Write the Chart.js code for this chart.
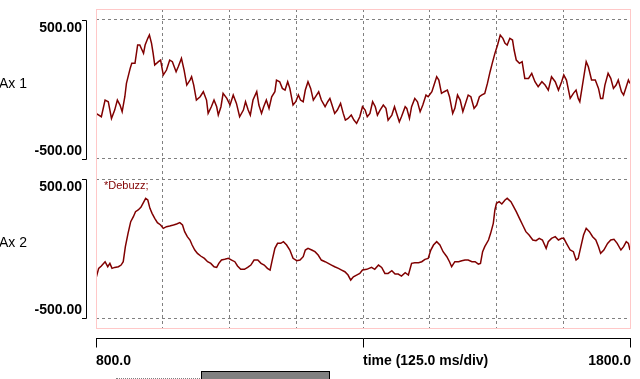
<!DOCTYPE html>
<html>
<head>
<meta charset="utf-8">
<script src="https://cdn.jsdelivr.net/npm/chart.js@4/dist/chart.umd.min.js"></script>
<style>
  html, body { margin: 0; padding: 0; background: #fff; overflow: hidden; }
  #wrap { position: relative; width: 640px; height: 379px; }
  #chart { position: absolute; left: 0; top: 0; }
  .track { position: absolute; left: 116px; top: 378px; width: 120px; border-top: 1px dotted #808080; }
  .thumb { position: absolute; left: 201px; top: 371px; width: 127px; height: 10px; background: #808080; border: 1px solid #000; }
</style>
</head>
<body>
<div id="wrap">
  <canvas id="chart" width="640" height="379"></canvas>
  <div class="track"></div>
  <div class="thumb"></div>
</div>
<script>
// Ax 1 (ms, value)
const topTimes = [800,810,817,823,829,835,840,845,849,854,857,864,867,873,878,882,889,892,897,900,
  904,907,910,917,921,926,932,938,943,950,954,960,965,970,976,979,983,988,995,1001,
  1007,1010,1016,1021,1026,1029,1034,1038,1045,1051,1057,1063,1069,1076,1080,1085,1089,1094,1101,1105,
  1110,1114,1119,1124,1129,1135,1138,1144,1149,1154,1159,1163,1169,1174,1179,1183,1188,1192,1197,1202,
  1207,1213,1217,1222,1229,1234,1238,1242,1247,1252,1258,1263,1267,1272,1278,1283,1288,1294,
  1299,1304,1308,1313,1318,1323,1327,1332,1338,1343,1347,1354,1359,1363,1368,1372,1379,1382,1387,1391,
  1397,1402,1407,1412,1418,1422,1429,1433,1438,1442,1447,1452,1458,1462,1468,1472,1477,1482,1487,1491,
  1497,1502,1508,1513,1518,1522,1528,1533,1538,1542,1547,1552,1557,1562,1566,1570,1575,1580,1583,1587,
  1593,1598,1603,1610,1616,1622,1628,1635,1641,1647,1653,1660,1666,1672,1676,1681,1688,1694,1699,1703,
  1706,1711,1718,1722,1728,1735,1741,1745,1749,1753,1759,1764,1769,1774,1778,1784,1788,1793,1797,1800];
const topValues = [-172,-196,-76,-88,-208,-148,-76,-112,-160,-52,44,152,188,188,320,320,260,320,368,392,
  332,260,176,200,212,104,140,212,200,128,164,224,140,32,68,92,32,-76,-52,-16,
  -76,-172,-124,-76,-124,-184,-124,-28,-64,-112,-40,-100,-196,-148,-88,-148,-184,-76,-16,-112,
  -172,-124,-76,-136,-52,-16,68,56,8,-4,56,8,-112,-88,-40,-76,-88,-4,56,8,
  -76,-40,-16,-76,-124,-88,-64,-112,-172,-148,-100,-172,-220,-208,-184,-220,-244,-196,
  -124,-148,-196,-172,-88,-124,-184,-148,-112,-136,-220,-184,-124,-172,-232,-196,-124,-136,-208,-124,
  -64,-88,-160,-112,-40,-52,-16,32,92,68,-28,-16,-4,-52,-172,-136,-40,-76,-160,-112,
  -40,-52,-136,-112,-52,-40,-28,44,128,188,260,320,392,368,332,320,368,356,284,212,
  188,200,80,80,116,56,20,56,32,-4,92,56,-4,56,104,68,-64,-28,-4,-64,
  -88,32,200,164,68,68,8,-64,-64,32,116,80,8,32,68,-16,-40,20,68,44];

// Ax 2 (ms, value)
const bottomTimes = [800,805,810,817,822,826,830,835,842,847,851,855,860,865,870,874,879,884,888,893,
  897,901,905,910,915,921,926,932,938,945,951,957,962,966,971,976,980,985,990,996,
  1003,1009,1015,1021,1026,1030,1035,1041,1048,1054,1060,1065,1071,1078,1084,1090,1096,1103,1109,1115,
  1121,1126,1130,1135,1140,1146,1151,1157,1163,1169,1176,1182,1188,1192,1197,1204,1210,1216,1222,1229,
  1235,1241,1247,1254,1260,1266,1272,1277,1282,1288,1294,
  1299,1307,1316,1322,1329,1335,1341,1347,1354,1360,1366,1372,1379,1385,1391,1397,1404,1410,1416,1422,
  1427,1432,1438,1444,1450,1457,1462,1466,1472,1479,1485,1491,1497,1504,1510,1516,1520,1524,1528,1535,
  1539,1544,1547,1550,1555,1560,1566,1570,1577,1582,1587,1593,1599,1605,1611,1618,1624,1630,1636,1643,
  1647,1653,1660,1666,1672,1676,1681,1688,1694,1699,1703,1708,1713,1718,1724,1730,1736,1741,1745,1751,
  1758,1764,1770,1776,1783,1788,1793,1797,1800];
const bottomValues = [-215,-143,-126,-95,-131,-107,-143,-136,-131,-119,-95,13,109,193,229,265,277,296,325,361,
  349,289,253,217,186,169,145,157,162,169,176,186,169,121,85,61,25,-11,-35,-54,
  -71,-95,-107,-131,-136,-107,-83,-78,-71,-83,-95,-126,-150,-150,-136,-119,-83,-83,-107,-119,
  -143,-155,-83,1,37,37,49,25,-11,-71,-88,-83,-59,-11,1,-11,-23,-47,-83,-95,
  -107,-119,-131,-143,-155,-167,-191,-227,-203,-191,-179,
  -155,-150,-136,-150,-119,-136,-179,-179,-160,-184,-184,-198,-174,-191,-107,-102,-102,-95,-78,-71,
  -11,25,49,25,-23,-59,-95,-131,-95,-95,-88,-83,-83,-95,-95,-112,-107,-23,13,61,
  109,181,277,325,337,320,349,361,337,301,265,217,169,121,97,61,56,73,61,1,
  49,73,85,61,73,73,37,-11,-23,-83,-71,13,97,145,121,85,61,13,-35,-11,
  37,61,66,37,-11,13,49,37,-11];

const axisNames = ["Ax 1", "Ax 2"];
const yTickValues = [500, -500];
const xMin = 800, xMax = 1800, xStep = 125;
const xLabelValues = [800, 1300, 1800];
const xLabels = ["800.0", "time (125.0 ms/div)", "1800.0"];
const noteText = "*Debuzz;";

const traceColor = "#800000";
const gridColor = "#808080";

const toPoints = (ts, vs) => ts.map((t, i) => ({ x: t, y: vs[i] }));

// keep only the 500 / -500 lines on each panel
const onlyPanelTicks = (scale) => {
    scale.ticks = yTickValues.map(v => ({ value: v }));
};

const decor = {
    id: "decor",
    afterDraw(chart) {
        const ctx = chart.ctx;
        const a = chart.chartArea;
        const xs = chart.scales.x;
        ctx.save();

        // pink frame round both panels
        ctx.strokeStyle = "#ffc8c8";
        ctx.lineWidth = 1;
        ctx.strokeRect(Math.round(a.left) + 0.5, Math.round(a.top) + 0.5,
            Math.round(a.right - a.left), Math.round(a.bottom - a.top));

        // y brackets, labels and axis names
        [chart.scales.y1, chart.scales.y2].forEach((s, i) => {
            const top = Math.round(s.getPixelForValue(yTickValues[0]));
            const bot = Math.round(s.getPixelForValue(yTickValues[1]));
            ctx.strokeStyle = "#000";
            ctx.lineWidth = 1;
            ctx.beginPath();
            ctx.moveTo(82, top + 0.5);
            ctx.lineTo(86.5, top + 0.5);
            ctx.lineTo(86.5, bot + 0.5);
            ctx.lineTo(82, bot + 0.5);
            ctx.stroke();

            ctx.fillStyle = "#000";
            ctx.font = "bold 14px 'Liberation Sans', Arial, sans-serif";
            ctx.textAlign = "right";
            ctx.textBaseline = "middle";
            ctx.fillText(yTickValues[0].toFixed(2), 82, top + 8);
            ctx.fillText(yTickValues[1].toFixed(2), 82, bot - 8);

            ctx.font = "14px 'Liberation Sans', Arial, sans-serif";
            ctx.textAlign = "left";
            ctx.fillText(axisNames[i], -1, (top + bot) / 2 - 5);
        });

        // note in the lower panel
        const y2top = chart.scales.y2.getPixelForValue(yTickValues[0]);
        ctx.fillStyle = traceColor;
        ctx.font = "11px 'Liberation Sans', Arial, sans-serif";
        ctx.textAlign = "left";
        ctx.textBaseline = "middle";
        ctx.fillText(noteText, a.left + 8, y2top + 7);

        // time axis below the frame
        const ay = Math.round(a.bottom) + 10.5;
        ctx.strokeStyle = "#000";
        ctx.lineWidth = 1;
        ctx.beginPath();
        ctx.moveTo(xs.getPixelForValue(xMin), ay);
        ctx.lineTo(xs.getPixelForValue(xMax) + 1, ay);
        xLabelValues.forEach(v => {
            const px = Math.round(xs.getPixelForValue(v)) + 0.5;
            ctx.moveTo(px, ay);
            ctx.lineTo(px, ay + 9);
        });
        ctx.stroke();

        ctx.fillStyle = "#000";
        ctx.font = "bold 14px 'Liberation Sans', Arial, sans-serif";
        ctx.textBaseline = "middle";
        xLabelValues.forEach((v, i) => {
            const px = xs.getPixelForValue(v);
            ctx.textAlign = i === xLabelValues.length - 1 ? "right" : "left";
            ctx.fillText(xLabels[i], px + (i === xLabelValues.length - 1 ? 1 : 0), ay + 23);
        });
        ctx.restore();
    }
};

const gridStyle = {
    color: gridColor,
    lineWidth: 1,
    drawTicks: false,
};

new Chart(document.getElementById("chart").getContext("2d"), {
    type: "line",
    data: {
        datasets: [{
            label: axisNames[0],
            data: toPoints(topTimes, topValues),
            yAxisID: "y1",
            borderColor: traceColor,
            borderWidth: 1.5,
            pointRadius: 0,
            tension: 0,
            fill: false,
        }, {
            label: axisNames[1],
            data: toPoints(bottomTimes, bottomValues),
            yAxisID: "y2",
            borderColor: traceColor,
            borderWidth: 1.5,
            pointRadius: 0,
            tension: 0,
            fill: false,
        }],
    },
    options: {
        responsive: false,
        animation: false,
        events: [],
        layout: { padding: { left: 96, top: 9, right: 10, bottom: 51 } },
        plugins: { legend: { display: false }, tooltip: { enabled: false } },
        scales: {
            x: {
                type: "linear",
                min: xMin,
                max: xMax,
                ticks: { display: false, stepSize: xStep },
                grid: gridStyle,
                border: { display: false, dash: [3, 3] },
            },
            // panel 1: 500 at 11 px below frame top, 139 px per 1000
            y1: {
                type: "linear",
                position: "left",
                min: -1715.8,
                max: 579.1,
                afterBuildTicks: onlyPanelTicks,
                ticks: { display: false },
                grid: gridStyle,
                border: { display: false, dash: [3, 3] },
            },
            y2: {
                type: "linear",
                position: "left",
                min: -571.9,
                max: 1723.0,
                afterBuildTicks: onlyPanelTicks,
                ticks: { display: false },
                grid: gridStyle,
                border: { display: false, dash: [3, 3] },
            },
        },
    },
    plugins: [decor],
});
</script>
</body>
</html>
